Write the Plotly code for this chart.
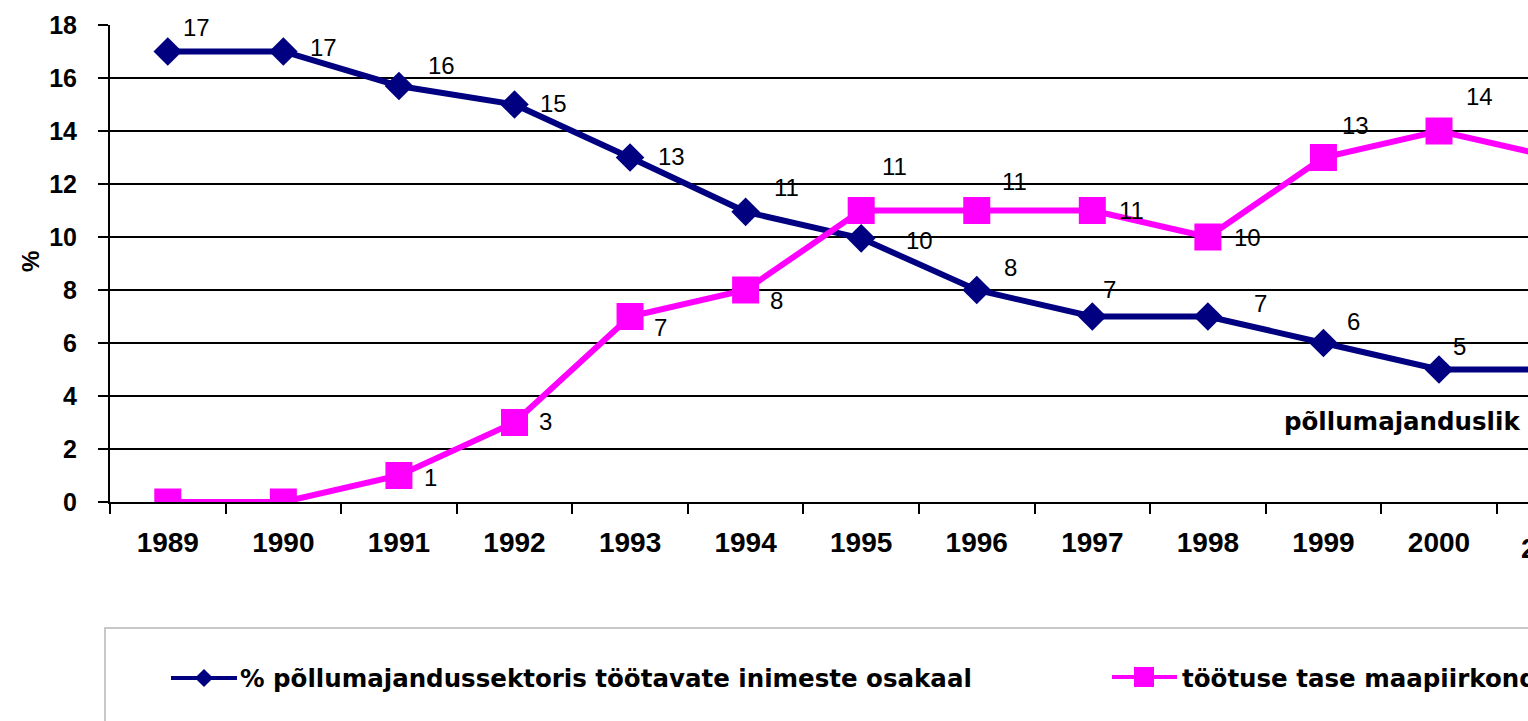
import plotly.graph_objects as go

# ---------------- data ----------------
years = ["1989", "1990", "1991", "1992", "1993", "1994", "1995", "1996",
         "1997", "1998", "1999", "2000", "2001"]
agri_share = [17, 17, 15.7, 15, 13, 10.95, 9.95, 8, 7, 7, 6, 5, 5]
unemployment = [0, 0, 1, 3, 7, 8, 11, 11, 11, 10, 13, 14, 13]
agri_labels = ["17", "17", "16", "15", "13", "11", "10", "8", "7", "7", "6", "5", ""]
unemp_labels = ["", "", "1", "3", "7", "8", "11", "11", "11", "10", "13", "14", ""]
series_names = ["% põllumajandussektoris töötavate inimeste osakaal",
                "töötuse tase maapiirkondades"]
y_ticks = [0, 2, 4, 6, 8, 10, 12, 14, 16, 18]

# label offsets (pixels) – styling only
agri_dx = [29, 40, 43, 39, 41, 41, 58, 34, 17, 53, 30, 20, 0]
agri_dy = [24, 4, 20, 1, 1, 24, -2, 23, 27, 13, 22, 23, 0]
unemp_dx = [0, 0, 32, 31, 30, 31, 33, 38, 39, 40, 32, 40, 0]
unemp_dy = [0, 0, -2, 1, -11, -10, 44, 29, 0, 0, 32, 35, 0]

NAVY = "#000080"
MAGENTA = "#FF00FF"
W, H = 1528, 721
ML, MT = 110, 25
plot_bottom = 502
ydom0 = (H - plot_bottom) / (H - MT)


def px_x(px):               # screen x -> paper
    return (px - ML) / (W - ML)


def px_y(py):               # screen y -> paper
    return (H - py) / (H - MT)


fig = go.Figure()

fig.add_trace(go.Scatter(
    x=years, y=agri_share, mode="lines+markers", name=series_names[0],
    line=dict(color=NAVY, width=6),
    marker=dict(symbol="diamond", size=22, color=NAVY),
    showlegend=False, cliponaxis=True,
))
fig.add_trace(go.Scatter(
    x=years, y=unemployment, mode="lines+markers", name=series_names[1],
    line=dict(color=MAGENTA, width=6),
    marker=dict(symbol="square", size=27, color=MAGENTA),
    showlegend=False, cliponaxis=True,
))

label_font = dict(family="Liberation Sans, Arial", size=24, color="black")
annotations = []
for i in range(len(years)):
    if agri_labels[i]:
        annotations.append(dict(x=i, y=agri_share[i], xref="x", yref="y",
                                text=agri_labels[i], showarrow=False,
                                xanchor="center", yanchor="middle",
                                xshift=agri_dx[i], yshift=agri_dy[i], font=label_font))
    if unemp_labels[i]:
        annotations.append(dict(x=i, y=unemployment[i], xref="x", yref="y",
                                text=unemp_labels[i], showarrow=False,
                                xanchor="center", yanchor="middle",
                                xshift=unemp_dx[i], yshift=unemp_dy[i], font=label_font))

# y-axis title
annotations.append(dict(x=px_x(30), y=px_y(262), xref="paper", yref="paper",
                        xanchor="center", yanchor="middle",
                        text="%", showarrow=False, textangle=-90,
                        font=dict(family="Liberation Sans, Arial", size=24, color="black",
                                  weight="bold")))
# partially visible last tick label
annotations.append(dict(x=px_x(1519), y=px_y(548), xref="paper", yref="paper",
                        xanchor="left", yanchor="middle",
                        text=years[-1], showarrow=False,
                        font=dict(family="Liberation Sans, Arial", size=28, color="black",
                                  weight="bold")))
# text box inside plot
annotations.append(dict(x=px_x(1522), y=px_y(421), xref="paper", yref="paper",
                        xanchor="right", yanchor="middle",
                        text="põllumajanduslik", showarrow=False,
                        font=dict(family="DejaVu Sans", size=24.5, color="black", weight="bold")))

# ---------------- legend (manual, extends off page) ----------------
legend_font = dict(family="DejaVu Sans", size=24.5, color="black", weight="bold")
fig.add_trace(go.Scatter(
    x=[171, 204, 237], y=[678, 678, 678], xaxis="x2", yaxis="y2",
    mode="lines", line=dict(color=NAVY, width=4), showlegend=False, hoverinfo="skip"))
fig.add_trace(go.Scatter(
    x=[204], y=[678], xaxis="x2", yaxis="y2", mode="markers",
    marker=dict(symbol="diamond", size=14, color=NAVY), showlegend=False, hoverinfo="skip"))
fig.add_trace(go.Scatter(
    x=[1112, 1144, 1177], y=[677, 677, 677], xaxis="x2", yaxis="y2",
    mode="lines", line=dict(color=MAGENTA, width=4), showlegend=False, hoverinfo="skip"))
fig.add_trace(go.Scatter(
    x=[1144], y=[677], xaxis="x2", yaxis="y2", mode="markers",
    marker=dict(symbol="square", size=20, color=MAGENTA), showlegend=False, hoverinfo="skip"))
annotations.append(dict(x=px_x(238), y=px_y(678), xref="paper", yref="paper",
                        xanchor="left", yanchor="middle", text=series_names[0],
                        showarrow=False, font=legend_font))
annotations.append(dict(x=px_x(1180), y=px_y(678), xref="paper", yref="paper",
                        xanchor="left", yanchor="middle", text=series_names[1],
                        showarrow=False, font=legend_font))

shapes = [dict(type="rect", xref="paper", yref="paper",
               x0=px_x(105), x1=px_x(1700), y0=px_y(628), y1=px_y(800),
               line=dict(color="#c8c8c8", width=2), fillcolor="rgba(0,0,0,0)",
               layer="below")]

fig.update_layout(
    template="none",
    width=W, height=H,
    margin=dict(l=ML, r=0, t=MT, b=0, pad=0, autoexpand=False),
    paper_bgcolor="white", plot_bgcolor="white",
    annotations=annotations, shapes=shapes,
    xaxis=dict(
        type="category", range=[-0.5, 11.77], domain=[0, 1], automargin=False,
        tickson="boundaries", ticks="outside", ticklen=10, tickwidth=2, tickcolor="black",
        showline=True, linecolor="black", linewidth=2, showgrid=False, zeroline=False,
        tickfont=dict(family="Liberation Sans, Arial", size=28, color="black", weight="bold"),
        ticklabelstandoff=14, anchor="y",
    ),
    yaxis=dict(
        range=[0, 18], domain=[ydom0, 1], tickvals=y_ticks, automargin=False,
        ticks="outside", ticklen=10, tickwidth=2, tickcolor="black",
        showline=True, linecolor="black", linewidth=2,
        showgrid=True, gridcolor="black", gridwidth=1.5,
        zeroline=False,
        tickfont=dict(family="Liberation Sans, Arial", size=25, color="black", weight="bold"),
        ticklabelstandoff=16, anchor="x",
    ),
    xaxis2=dict(range=[ML, W], domain=[0, 1], anchor="y2", visible=False,
                fixedrange=True, automargin=False),
    yaxis2=dict(range=[H, plot_bottom], domain=[0, ydom0], anchor="x2",
                visible=False, fixedrange=True, automargin=False),
    font=dict(family="Liberation Sans, Arial"),
)

page_css = ("document.body.style.margin='0';"
            "document.body.style.padding='0';"
            "document.body.style.overflow='hidden';"
            "document.documentElement.style.overflow='hidden';")
fig.write_html("out.html", post_script=page_css, config={"displayModeBar": False})
